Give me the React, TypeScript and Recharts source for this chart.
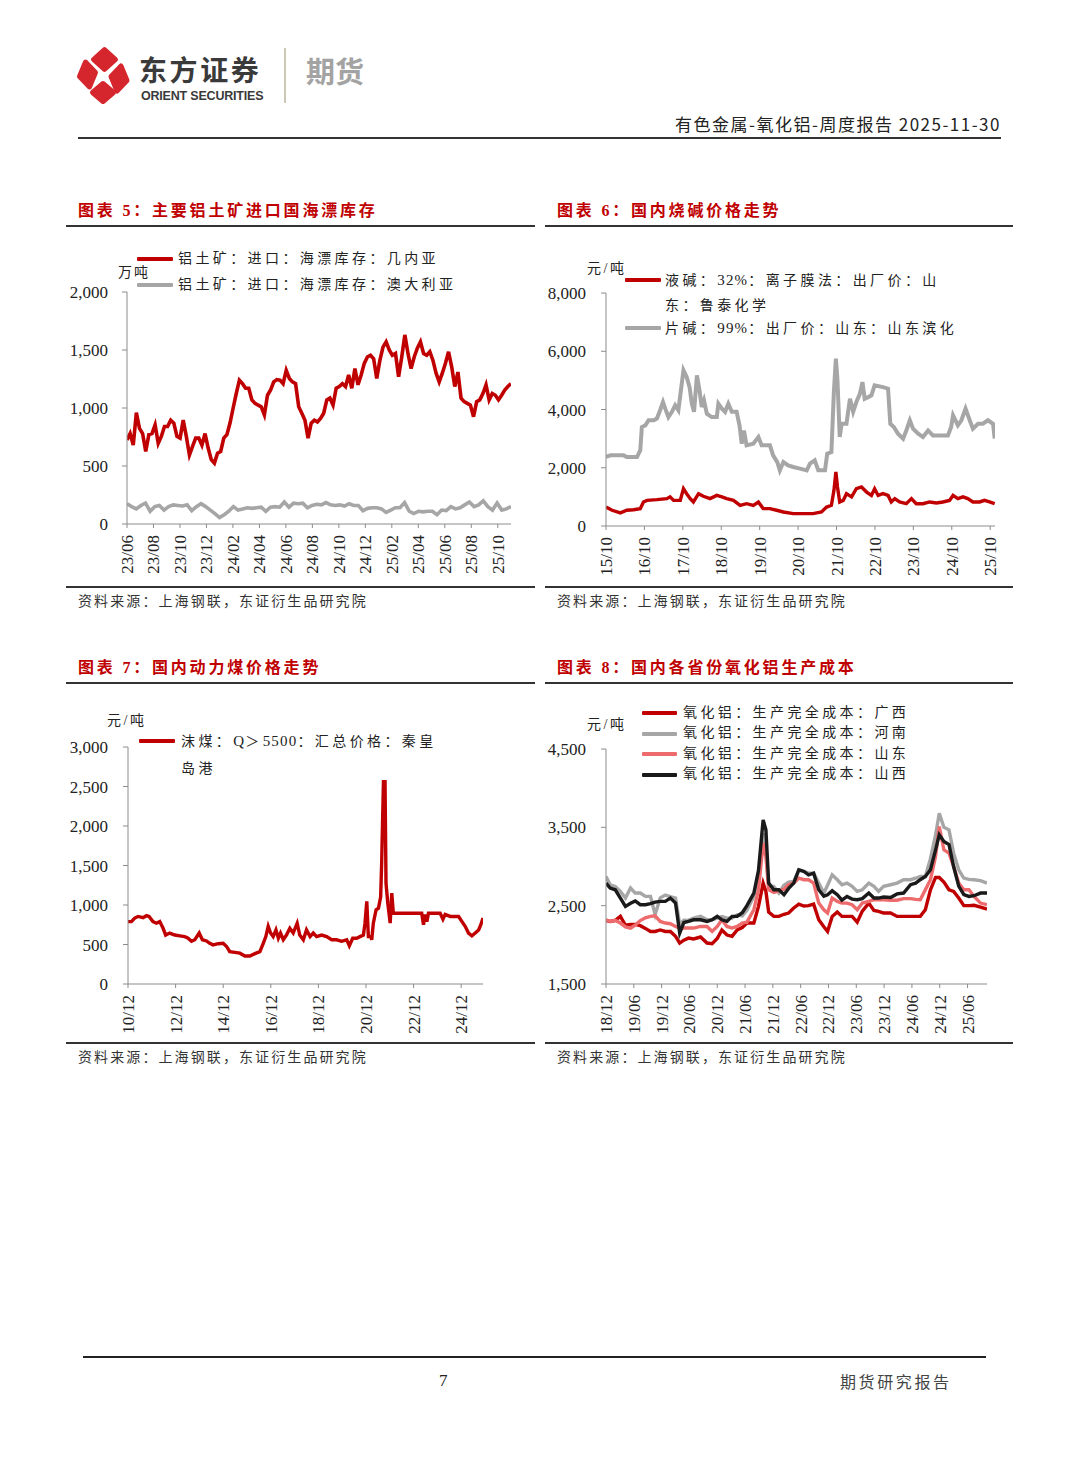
import React from 'react';
import { LineChart, Line, XAxis, YAxis } from 'recharts';

// ---------------- fonts & colours ----------------
const SERIF = "'Liberation Serif','Times New Roman',serif";
const MIX = "'Liberation Serif','Noto Sans CJK SC',serif";
const CJK = "'Noto Sans CJK SC','Noto Sans',sans-serif";
const RED = '#c00000';
const GRAY = '#a6a6a6';
const PINK = '#ee6b6d';
const BLACK = '#1a1a1a';
const AXIS = '#8c8c8c';

// ---------------- chart 5 : bauxite floating stocks (weekly, 万吨) ----------------
const c5SpanMonths = 29;
const c5TickMonths = [0, 2, 4, 6, 8, 10, 12, 14, 16, 18, 20, 22, 24, 26, 28];
const c5TickLabels = ['23/06', '23/08', '23/10', '23/12', '24/02', '24/04', '24/06', '24/08', '24/10', '24/12', '25/02', '25/04', '25/06', '25/08', '25/10'];
const c5YTicks = [0, 500, 1000, 1500, 2000];
const c5Names = ['铝土矿：进口：海漂库存：几内亚', '铝土矿：进口：海漂库存：澳大利亚'];
const c5Guinea = [
  725, 780, 680, 960, 825, 780, 625, 770, 780, 855,
  695, 755, 840, 840, 895, 870, 755, 740, 895, 755,
  595, 670, 740, 740, 680, 780, 655, 555, 525, 610,
  625, 740, 770, 870, 1000, 1125, 1240, 1210, 1170, 1170,
  1070, 1040, 1025, 1010, 940, 1110, 1155, 1225, 1245, 1240,
  1210, 1325, 1255, 1225, 1210, 1010, 955, 895, 740, 870,
  895, 880, 910, 955, 1070, 1085, 1025, 1170, 1185, 1210,
  1185, 1285, 1170, 1340, 1200, 1285, 1385, 1440, 1455, 1425,
  1255, 1410, 1525, 1570, 1500, 1455, 1470, 1270, 1440, 1630,
  1470, 1340, 1440, 1515, 1570, 1470, 1455, 1485, 1410, 1300,
  1225, 1300, 1385, 1485, 1355, 1185, 1310, 1085, 1055, 1040,
  1025, 925, 1055, 1070, 1125, 1200, 1070, 1125, 1110, 1070,
  1110, 1155, 1185, 1210,
];
const c5Australia = [
  175, 150, 130, 160, 180, 110, 150, 160, 120, 150, 165, 160, 155, 165, 115, 150, 175, 150, 120, 90, 55,
  80, 110, 150, 120, 130, 140, 135, 140, 145, 110, 145, 150, 145, 190,
  145, 180, 175, 180, 140, 160, 170, 165, 185, 165, 160, 165, 155, 175, 160,
  160, 115, 135, 140, 140, 130, 100, 120, 140, 140,
  185, 110, 90, 110, 105, 110, 110, 80, 120, 115, 150, 130, 140, 165, 190, 150, 165, 200, 150, 120, 180, 120, 130, 150,
];

// ---------------- chart 6 : caustic soda prices (元/吨), x = months since 2015-10 ----------------
const c6TickMonths = [0, 12, 24, 36, 48, 60, 72, 84, 96, 108, 120];
const c6TickLabels = ['15/10', '16/10', '17/10', '18/10', '19/10', '20/10', '21/10', '22/10', '23/10', '24/10', '25/10'];
const c6YTicks = [0, 2000, 4000, 6000, 8000];
const c6Names = ['液碱：32%：离子膜法：出厂价：山东：鲁泰化学', '片碱：99%：出厂价：山东：山东滨化'];
const c6LiquidMonths = [
  0, 1.9, 4.5, 6.5, 8.6, 10.7, 11.7, 12.8, 15.9, 19, 20, 21.1, 23.2, 24.2, 25.2, 26.3, 27.3, 28.9, 30.4, 32.5,
  34.6, 36.2, 37.7, 39.8, 41.9, 43.9, 46, 47.6, 49.1, 51.2, 53.3, 55.4, 58.5, 61.6, 64.7, 67.3, 68.9, 70.4, 71.2, 71.8,
  72.3, 73, 74.1, 75.1, 76.7, 78.2, 79.8, 81.4, 82.9, 83.9, 85, 86.5, 88.1, 89.1, 90.2, 91.7, 93.8, 95.4, 96.9, 99,
  101.1, 103.2, 105.2, 107.3, 108.4, 109.9, 111.5, 113, 114.6, 116.7, 118.2, 119.8, 121.4,
];
const c6Liquid = [
  650, 540, 450, 540, 560, 595, 825, 880, 905, 940, 1000, 880, 880, 1280, 1110, 940, 825, 1110, 1020, 940,
  1050, 1000, 940, 880, 710, 765, 710, 825, 595, 595, 540, 480, 425, 425, 425, 480, 650, 710, 1225, 1855,
  1340, 825, 880, 1110, 1000, 1280, 1340, 1165, 1050, 1280, 1050, 1110, 1050, 825, 940, 825, 765, 940, 765, 765,
  825, 790, 825, 880, 1050, 940, 1000, 940, 825, 825, 880, 825, 765,
];
const c6FlakeMonths = [
  0, 1.4, 5.5, 6.5, 9.7, 10.7, 11.2, 12.3, 13.3, 14.9, 15.9, 16.9, 17.8, 18.5, 19.5, 20.6, 21.6, 22.6, 23.2, 24.2,
  25.2, 26.1, 26.8, 27.5, 28.4, 29.2, 29.9, 30.6, 31.5, 33, 34.6, 35.1, 36.2, 37.2, 38.2, 39.3, 40.8, 41.7, 42.4, 43.1,
  43.9, 46, 47.6, 48.6, 51.2, 52.2, 53.5, 54.3, 55.4, 56.9, 58.5, 60.6, 62.7, 63.7, 65.2, 66.3, 68.4, 69.1, 70.4, 71.2,
  71.8, 72.3, 73, 73.6, 75.1, 76.2, 77.2, 78.2, 79.3, 80.1, 80.8, 81.9, 82.9, 83.9, 86.5, 88.1, 88.8, 89.9, 91.2, 92.8,
  93.8, 94.9, 95.9, 97.5, 99, 100.6, 102.1, 104.2, 106.8, 107.8, 108.4, 109.9, 111, 112.3, 113.6, 114.6, 116.2, 117.7, 119.3, 120.9,
  121.4,
];
const c6Flake = [
  2370, 2425, 2425, 2370, 2370, 2600, 3400, 3455, 3630, 3630, 3690, 3975, 4255, 4030, 3740, 3920, 4145, 3975, 4485, 5345,
  5115, 4770, 4200, 3920, 5170, 4655, 4085, 4315, 3855, 3740, 3740, 4200, 4030, 3920, 4200, 3920, 3920, 3455, 2825, 3280,
  2770, 2825, 3055, 2770, 2770, 2425, 2195, 1910, 2195, 2080, 2025, 1970, 1910, 2140, 2255, 1910, 1910, 2485, 2540, 4655,
  5745, 5000, 3055, 3510, 3510, 4370, 3920, 4255, 4540, 4940, 4370, 4425, 4485, 4830, 4770, 4715, 3510, 3400, 3170, 3000,
  3280, 3630, 3340, 3170, 3055, 3280, 3110, 3110, 3110, 3400, 3800, 3455, 3630, 4030, 3630, 3340, 3510, 3510, 3630, 3510,
  3000,
];

// ---------------- chart 7 : thermal coal (元/吨), x = months since 2010-12 ----------------
const c7TickMonths = [0, 24, 48, 72, 96, 120, 144, 168];
const c7TickLabels = ['10/12', '12/12', '14/12', '16/12', '18/12', '20/12', '22/12', '24/12'];
const c7YTicks = [0, 500, 1000, 1500, 2000, 2500, 3000];
const c7Names = ['沫煤：Q＞5500：汇总价格：秦皇岛港'];
const c7CoalMonths = [
  0, 1.7, 3.4, 5.1, 7.6, 9.3, 10.6, 12.6, 14.3, 16, 17.7, 19, 21, 23.6, 26.1, 28.6, 30.3, 32, 33.7, 35.9,
  37.5, 39.6, 41.2, 42.9, 45.5, 48, 49.7, 51.3, 53.9, 56.4, 58.9, 61.4, 64, 66.5, 68.2, 69.5, 70.7, 71.9, 73.2, 74.6,
  75.8, 76.9, 78.3, 79.9, 81.6, 83.3, 85.3, 86.6, 88.4, 90, 91.8, 93.4, 95.1, 97.6, 100.2, 102.7, 105.2, 107.7, 110.3, 111.6,
  113.3, 115.3, 117, 118.7, 119.5, 120.4, 121.2, 122.4, 122.9, 123.7, 125.1, 126.3, 127.4, 127.9, 128.8, 129.6, 130.1, 131, 132.2, 133,
  133.8, 135.5, 148.1, 149, 149.8, 150.7, 151.5, 157.4, 158.8, 159.9, 162.5, 165, 166.7, 168.4, 170, 171.7, 173.4, 175.1, 176.8, 177.9,
  179,
];
const c7Coal = [
  790, 790, 835, 855, 840, 865, 855, 790, 770, 790, 705, 620, 645, 620, 610, 600, 580, 540, 560, 645,
  560, 545, 515, 495, 510, 515, 475, 410, 400, 390, 355, 355, 385, 410, 515, 600, 730, 645, 600, 685,
  580, 645, 560, 620, 705, 645, 770, 620, 560, 685, 600, 645, 600, 620, 600, 560, 560, 540, 560, 485,
  580, 580, 600, 620, 770, 1045, 600, 600, 560, 770, 940, 960, 1105, 1525, 2560, 2560, 1275, 1020, 770, 1150,
  895, 895, 895, 750, 880, 790, 895, 895, 820, 880, 855, 855, 855, 790, 730, 645, 610, 645, 685, 750,
  835,
];

// ---------------- chart 8 : alumina full cost by province (元/吨), x = months since 2018-12 ----------------
const c8TickMonths = [0, 6, 12, 18, 24, 30, 36, 42, 48, 54, 60, 66, 72, 78];
const c8TickLabels = ['18/12', '19/06', '19/12', '20/06', '20/12', '21/06', '21/12', '22/06', '22/12', '23/06', '23/12', '24/06', '24/12', '25/06'];
const c8YTicks = [1500, 2500, 3500, 4500];
const c8Names = ['氧化铝：生产完全成本：广西', '氧化铝：生产完全成本：河南', '氧化铝：生产完全成本：山东', '氧化铝：生产完全成本：山西'];
const c8Months = [
  0, 0.9, 2.0, 3.1, 4.2, 5.3, 6.3, 7.4, 8.5, 9.6, 10.6, 11.7, 12.8, 13.9, 15.0, 15.9, 16.8, 17.8, 18.9, 20.4,
  21.8, 22.9, 24.0, 25.0, 26.1, 27.2, 28.3, 29.4, 30.4, 31.9, 32.9, 33.9, 34.5, 35.1, 36.2, 37.3, 38.4, 39.4, 40.5, 41.6,
  42.7, 43.7, 44.8, 45.9, 47.0, 47.8, 48.8, 49.9, 50.9, 52.0, 53.1, 54.2, 55.3, 56.7, 57.8, 58.8, 59.9, 61.4, 62.8, 64.2,
  65.7, 66.8, 67.8, 68.9, 70.0, 71.1, 71.9, 72.9, 74.0, 75.0, 76.1, 77.2, 78.3, 79.4, 80.8, 82.2,
];
const c8Guangxi = [
  2312, 2299, 2312, 2363, 2250, 2260, 2260, 2245, 2210, 2171, 2171, 2190, 2171, 2171, 2108, 2023, 2060, 2086, 2075, 2100,
  2023, 2014, 2080, 2190, 2125, 2108, 2190, 2220, 2278, 2278, 2491, 2788, 2682, 2418, 2363, 2363, 2390, 2406, 2470, 2520,
  2495, 2500, 2520, 2320, 2230, 2171, 2363, 2420, 2363, 2363, 2363, 2290, 2430, 2533, 2440, 2427, 2406, 2406, 2363, 2363,
  2363, 2363, 2363, 2448, 2703, 2860, 2860, 2800, 2703, 2682, 2597, 2500, 2500, 2505, 2480, 2456,
];
const c8Henan = [
  2873, 2767, 2746, 2682, 2597, 2725, 2661, 2661, 2618, 2618, 2384, 2600, 2635, 2615, 2597, 2260, 2315, 2312, 2341, 2363,
  2320, 2320, 2340, 2360, 2341, 2341, 2384, 2370, 2440, 2618, 2873, 3425, 3213, 2746, 2746, 2661, 2760, 2800, 2809, 2958,
  2937, 2915, 2915, 2788, 2661, 2760, 2894, 2831, 2767, 2788, 2746, 2682, 2703, 2788, 2746, 2682, 2746, 2767, 2788, 2831,
  2831, 2850, 2873, 2873, 3100, 3400, 3680, 3500, 3468, 3170, 2958, 2852, 2835, 2831, 2820, 2788,
];
const c8Shandong = [
  2320, 2299, 2312, 2278, 2230, 2214, 2250, 2310, 2345, 2363, 2371, 2299, 2278, 2269, 2235, 2214, 2214, 2214, 2214, 2235,
  2235, 2171, 2235, 2320, 2235, 2214, 2235, 2278, 2290, 2448, 2703, 3298, 3128, 2703, 2670, 2690, 2710, 2770, 2788, 2852,
  2831, 2831, 2788, 2533, 2448, 2406, 2597, 2555, 2533, 2533, 2512, 2448, 2533, 2555, 2576, 2576, 2576, 2570, 2570, 2590,
  2590, 2580, 2576, 2703, 2831, 3128, 3510, 3213, 3170, 3000, 2788, 2703, 2703, 2618, 2533, 2512,
];
const c8Shanxi = [
  2788, 2725, 2703, 2597, 2491, 2530, 2560, 2512, 2512, 2525, 2545, 2555, 2555, 2597, 2533, 2150, 2285, 2300, 2320, 2320,
  2299, 2320, 2363, 2320, 2299, 2363, 2363, 2410, 2500, 2660, 2950, 3595, 3468, 2788, 2703, 2703, 2640, 2720, 2788, 2958,
  2937, 2894, 2915, 2703, 2620, 2640, 2690, 2640, 2570, 2618, 2584, 2576, 2590, 2661, 2597, 2597, 2610, 2605, 2650, 2661,
  2767, 2788, 2831, 2873, 2958, 3213, 3404, 3320, 3280, 3000, 2750, 2640, 2618, 2627, 2661, 2661,
];

// ---------------- helpers ----------------
type Row = { t: number; [k: string]: number };
function merge(series: { key: string; t: number[]; v: number[] }[]): Row[] {
  const rows: Row[] = [];
  series.forEach((s) => s.v.forEach((v, i) => rows.push({ t: s.t[i], [s.key]: v } as Row)));
  rows.sort((a, b) => a.t - b.t);
  return rows;
}
const evenMonths = (n: number, span: number) => Array.from({ length: n }, (_, i) => (i * span) / (n - 1));

const c5Data = merge([
  { key: 'guinea', t: evenMonths(c5Guinea.length, c5SpanMonths), v: c5Guinea },
  { key: 'australia', t: evenMonths(c5Australia.length, c5SpanMonths), v: c5Australia },
]);
const c6Data = merge([
  { key: 'liquid', t: c6LiquidMonths, v: c6Liquid },
  { key: 'flake', t: c6FlakeMonths, v: c6Flake },
]);
const c7Data = merge([{ key: 'coal', t: c7CoalMonths, v: c7Coal }]);
const c8Data = c8Months.map((t, i) => ({ t, gx: c8Guangxi[i], hn: c8Henan[i], sd: c8Shandong[i], sx: c8Shanxi[i] }));

const fmt = (v: number) => v.toLocaleString('en-US');

const rotTick = (ticks: number[], labels: string[]) => (p: any) => {
  const { x, y, payload } = p;
  const idx = ticks.indexOf(payload.value);
  return (
    <text
      x={x}
      y={y}
      transform={`rotate(-90 ${x} ${y})`}
      textAnchor="end"
      dy={6}
      fontFamily={SERIF}
      fontSize={17}
      fill="#222"
    >
      {idx >= 0 ? labels[idx] : ''}
    </text>
  );
};

const yTickStyle = { fontFamily: SERIF, fontSize: 17, fill: '#222' };

// CJK runs get wide letter-spacing, Latin runs a slightly larger serif with small spacing
function spaced(text: string, ls: number) {
  const runs = text.match(/[\x20-\x7e]+|[^\x20-\x7e]+/g) || [];
  return runs.map((r, i) =>
    /^[\x20-\x7e]+$/.test(r)
      ? <span key={i} style={{ letterSpacing: 1.2, fontSize: 15 }}>{r}</span>
      : <span key={i} style={{ letterSpacing: ls }}>{r}</span>
  );
}

type TxtProps = {
  x: number; y: number; size: number; color?: string; family?: string; weight?: number;
  ls?: number; align?: 'left' | 'right'; lh?: number; children: React.ReactNode;
};
function Txt({ x, y, size, color = '#222', family = MIX, weight = 400, ls = 0, align = 'left', lh, children }: TxtProps) {
  const lineH = lh ?? Math.round(size * 1.5);
  const style: React.CSSProperties = {
    position: 'absolute', top: y - lineH / 2, fontSize: size, lineHeight: `${lineH}px`, color,
    fontFamily: family, fontWeight: weight, letterSpacing: ls, whiteSpace: 'nowrap',
  };
  if (align === 'right') style.right = 1080 - x; else style.left = x;
  return <div style={style}>{children}</div>;
}

function HLine({ x1, x2, y, color = '#333', w = 1.5 }: { x1: number; x2: number; y: number; color?: string; w?: number }) {
  return <div style={{ position: 'absolute', left: x1, top: y - w / 2, width: x2 - x1, height: w, background: color }} />;
}

type LegItem = { name: string; color: string; y: number; lineX: number; lineW: number; textX: number; breakAt?: number; lh?: number; thick?: number };
function LegendBlock({ items }: { items: LegItem[] }) {
  return (
    <>
      {items.map((it, i) => {
        const chars = Array.from(it.name);
        const lines = it.breakAt ? [chars.slice(0, it.breakAt).join(''), chars.slice(it.breakAt).join('')] : [it.name];
        const lh = it.lh ?? 26;
        return (
          <React.Fragment key={i}>
            <div style={{ position: 'absolute', left: it.lineX, top: it.y - (it.thick ?? 4) / 2, width: it.lineW, height: it.thick ?? 4, background: it.color, borderRadius: 1 }} />
            {lines.map((ln, j) => (
              <div
                key={j}
                style={{
                  position: 'absolute', left: it.textX, top: it.y - lh / 2 + j * lh, whiteSpace: 'nowrap',
                  fontSize: 14, lineHeight: `${lh}px`, fontFamily: MIX, color: '#222',
                }}
              >
                {spaced(ln, 3.4)}
              </div>
            ))}
          </React.Fragment>
        );
      })}
    </>
  );
}

function Panel({ left, title, titleY, topLineY, bottomLineY, x1, x2 }: { left: number; title: string; titleY: number; topLineY: number; bottomLineY: number; x1: number; x2: number }) {
  return (
    <>
      <Txt x={left} y={titleY} size={16} color={RED} weight={700} ls={2.8}>{title}</Txt>
      <HLine x1={x1} x2={x2} y={topLineY} />
      <HLine x1={x1} x2={x2} y={bottomLineY} />
      <Txt x={left} y={bottomLineY + 14} size={14} color="#333" ls={2.1}>资料来源：上海钢联，东证衍生品研究院</Txt>
    </>
  );
}

function Logo() {
  const c = '#d5262d';
  const d = (cx: number, cy: number, hw: number, hh: number, skew = 0) =>
    `M ${cx + skew} ${cy - hh} L ${cx + hw} ${cy + skew} L ${cx - skew} ${cy + hh} L ${cx - hw} ${cy - skew} Z`;
  return (
    <svg style={{ position: 'absolute', left: 0, top: 0 }} width={200} height={120}>
      <g fill={c} stroke={c} strokeWidth={5} strokeLinejoin="round">
        <path d={d(104.5, 59.5, 11, 10)} />
        <path d={d(87.5, 74.5, 8, 12.5, -2)} />
        <path d={d(119, 78.5, 8, 12.5, 2)} />
        <path d={d(103, 92.5, 10.5, 9)} />
      </g>
    </svg>
  );
}

// ---------------- charts ----------------
function Chart5() {
  return (
    <div style={{ position: 'absolute', left: 60, top: 280 }}>
      <LineChart width={470} height={310} data={c5Data} margin={{ top: 12, right: 19, left: 0, bottom: 0 }}>
        <XAxis type="number" dataKey="t" domain={[0, c5SpanMonths]} ticks={c5TickMonths} interval={0} allowDataOverflow
          stroke={AXIS} tickSize={4} tickMargin={7} height={66} tick={rotTick(c5TickMonths, c5TickLabels)} />
        <YAxis type="number" domain={[0, 2000]} ticks={c5YTicks} interval={0} width={67} stroke={AXIS}
          tickSize={5} tickMargin={14} tick={yTickStyle} tickFormatter={fmt} />
        <Line dataKey="australia" stroke={GRAY} strokeWidth={3.6} dot={false} connectNulls isAnimationActive={false} type="linear" />
        <Line dataKey="guinea" stroke={RED} strokeWidth={3.6} dot={false} connectNulls isAnimationActive={false} type="linear" />
      </LineChart>
    </div>
  );
}

function Chart6() {
  return (
    <div style={{ position: 'absolute', left: 540, top: 281 }}>
      <LineChart width={470} height={311} data={c6Data} margin={{ top: 12, right: 15, left: 0, bottom: 0 }}>
        <XAxis type="number" dataKey="t" domain={[0, 121.5]} ticks={c6TickMonths} interval={0} allowDataOverflow
          stroke={AXIS} tickSize={4} tickMargin={7} height={66} tick={rotTick(c6TickMonths, c6TickLabels)} />
        <YAxis type="number" domain={[0, 8000]} ticks={c6YTicks} interval={0} width={66} stroke={AXIS}
          tickSize={5} tickMargin={15} tick={yTickStyle} tickFormatter={fmt} />
        <Line dataKey="flake" stroke={GRAY} strokeWidth={4} dot={false} connectNulls isAnimationActive={false} type="linear" />
        <Line dataKey="liquid" stroke={RED} strokeWidth={3.4} dot={false} connectNulls isAnimationActive={false} type="linear" />
      </LineChart>
    </div>
  );
}

function Chart7() {
  return (
    <div style={{ position: 'absolute', left: 60, top: 735 }}>
      <LineChart width={440} height={315} data={c7Data} margin={{ top: 12, right: 17, left: 0, bottom: 0 }}>
        <XAxis type="number" dataKey="t" domain={[0, 179]} ticks={c7TickMonths} interval={0} allowDataOverflow
          stroke={AXIS} tickSize={4} tickMargin={7} height={66} tick={rotTick(c7TickMonths, c7TickLabels)} />
        <YAxis type="number" domain={[0, 3000]} ticks={c7YTicks} interval={0} width={68} stroke={AXIS}
          tickSize={5} tickMargin={15} tick={yTickStyle} tickFormatter={fmt} />
        <Line dataKey="coal" stroke={RED} strokeWidth={3.4} dot={false} connectNulls isAnimationActive={false} type="linear" />
      </LineChart>
    </div>
  );
}

function Chart8() {
  return (
    <div style={{ position: 'absolute', left: 540, top: 737 }}>
      <LineChart width={465} height={313} data={c8Data} margin={{ top: 12, right: 18, left: 0, bottom: 0 }}>
        <XAxis type="number" dataKey="t" domain={[0, 82.2]} ticks={c8TickMonths} interval={0} allowDataOverflow
          stroke={AXIS} tickSize={4} tickMargin={7} height={66} tick={rotTick(c8TickMonths, c8TickLabels)} />
        <YAxis type="number" domain={[1500, 4500]} ticks={c8YTicks} interval={0} width={66} stroke={AXIS}
          tickSize={5} tickMargin={15} tick={yTickStyle} tickFormatter={fmt} />
        <Line dataKey="gx" stroke={RED} strokeWidth={3.4} dot={false} isAnimationActive={false} type="linear" />
        <Line dataKey="hn" stroke={GRAY} strokeWidth={3.4} dot={false} isAnimationActive={false} type="linear" />
        <Line dataKey="sd" stroke={PINK} strokeWidth={3.4} dot={false} isAnimationActive={false} type="linear" />
        <Line dataKey="sx" stroke={BLACK} strokeWidth={3.4} dot={false} isAnimationActive={false} type="linear" />
      </LineChart>
    </div>
  );
}

export default function App() {
  return (
    <div style={{ position: 'absolute', left: 0, top: 0, width: 1080, height: 1466, background: '#fff', overflow: 'hidden' }}>
      {/* header */}
      <Logo />
      <Txt x={139} y={68.5} size={28} lh={30} color="#3a3a3a" family={CJK} weight={700} ls={2.6}>东方证券</Txt>
      <Txt x={141} y={96} size={12.5} lh={12} color="#3a3a3a" family="'Liberation Sans',Arial,sans-serif" weight={700} ls={-0.2}>ORIENT SECURITIES</Txt>
      <div style={{ position: 'absolute', left: 284, top: 48, width: 2, height: 55, background: '#cdc8b4' }} />
      <Txt x={306} y={70} size={29} lh={32} color="#a3a3a3" family={CJK} weight={700}>期货</Txt>
      <Txt x={1001} y={124} size={17} color="#222" family={CJK} align="right" ls={1.5}>有色金属-氧化铝-周度报告 2025-11-30</Txt>
      <HLine x1={78} x2={1001} y={138} color="#333" w={1.5} />

      {/* panels */}
      <Panel left={78} title="图表 5：主要铝土矿进口国海漂库存" titleY={211} topLineY={226} bottomLineY={587} x1={66} x2={535} />
      <Panel left={557} title="图表 6：国内烧碱价格走势" titleY={211} topLineY={226} bottomLineY={587} x1={545} x2={1013} />
      <Panel left={78} title="图表 7：国内动力煤价格走势" titleY={668} topLineY={683} bottomLineY={1043} x1={66} x2={535} />
      <Panel left={557} title="图表 8：国内各省份氧化铝生产成本" titleY={668} topLineY={683} bottomLineY={1043} x1={545} x2={1013} />

      <Chart5 />
      <Chart6 />
      <Chart7 />
      <Chart8 />

      {/* units */}
      <Txt x={118} y={272} size={14} ls={2}>万吨</Txt>
      <Txt x={587} y={268} size={14} ls={2.5}>元/吨</Txt>
      <Txt x={107} y={720} size={14} ls={2.5}>元/吨</Txt>
      <Txt x={587} y={724} size={14} ls={2.5}>元/吨</Txt>

      {/* legends */}
      <LegendBlock items={[
        { name: c5Names[0], color: RED, y: 259, lineX: 137, lineW: 36, textX: 178 },
        { name: c5Names[1], color: GRAY, y: 285, lineX: 137, lineW: 36, textX: 178 },
      ]} />
      <LegendBlock items={[
        { name: c6Names[0], color: RED, y: 280, lineX: 625, lineW: 36, textX: 665, breakAt: 17 },
        { name: c6Names[1], color: GRAY, y: 328, lineX: 625, lineW: 36, textX: 665 },
      ]} />
      <LegendBlock items={[
        { name: c7Names[0], color: RED, y: 741, lineX: 139, lineW: 36, textX: 181, breakAt: 17, lh: 27 },
      ]} />
      <LegendBlock items={[
        { name: c8Names[0], color: RED, y: 713, lineX: 642, lineW: 35, textX: 683, lh: 20.5 },
        { name: c8Names[1], color: GRAY, y: 733.5, lineX: 642, lineW: 35, textX: 683, lh: 20.5 },
        { name: c8Names[2], color: PINK, y: 754, lineX: 642, lineW: 35, textX: 683, lh: 20.5 },
        { name: c8Names[3], color: BLACK, y: 774.5, lineX: 642, lineW: 35, textX: 683, lh: 20.5 },
      ]} />

      {/* footer */}
      <HLine x1={83} x2={986} y={1357} color="#222" w={1.5} />
      <Txt x={439} y={1381} size={17} family={SERIF} color="#222">7</Txt>
      <Txt x={840} y={1381} size={16} family={CJK} color="#444" ls={2.6}>期货研究报告</Txt>
    </div>
  );
}
